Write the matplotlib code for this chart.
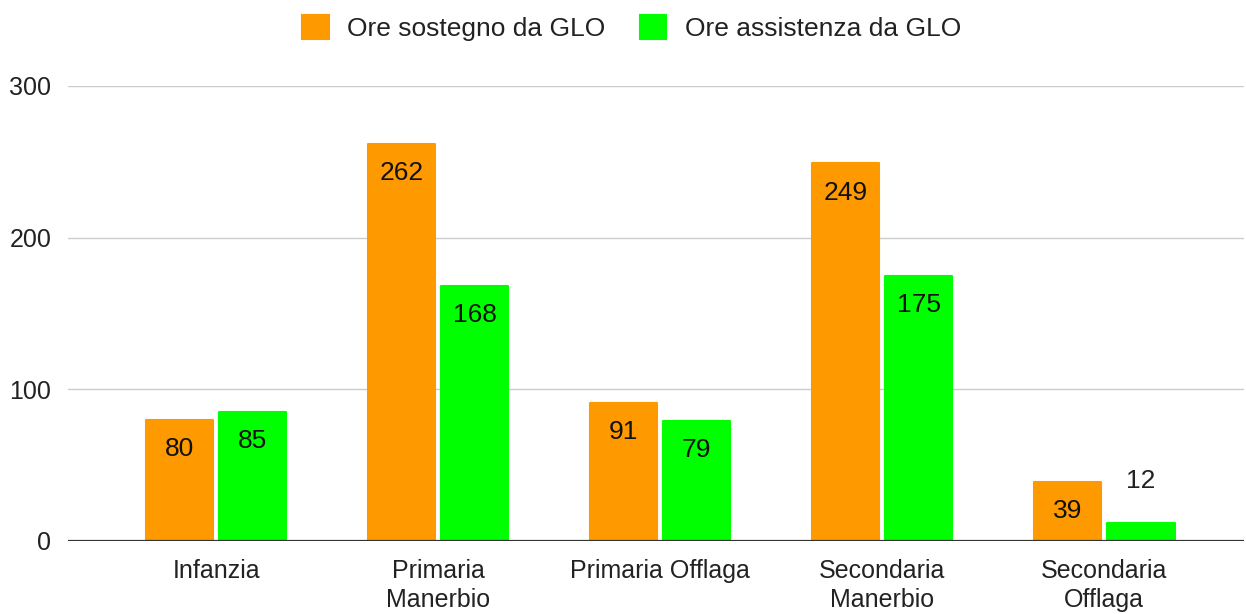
import matplotlib.pyplot as plt
import numpy as np

plt.rcParams['font.family'] = ['Liberation Sans', 'DejaVu Sans']

# dati
categorie = ["Infanzia", "Primaria\nManerbio", "Primaria Offlaga", "Secondaria\nManerbio", "Secondaria\nOfflaga"]
ore_sostegno = [80, 262, 91, 249, 39]
ore_assistenza = [85, 168, 79, 175, 12]
serie_nomi = ["Ore sostegno da GLO", "Ore assistenza da GLO"]
colori = ["#ff9900", "#00ff00"]

fig = plt.figure(figsize=(12.46, 6.14), dpi=100)
ax = fig.add_axes([68/1246, 1 - 541/614, 1176/1246, (541 - 86)/614])

x = np.arange(len(categorie))
w = 0.304
off = 0.165

b1 = ax.bar(x - off, ore_sostegno, w, color=colori[0], label=serie_nomi[0], zorder=2,
            edgecolor=colori[0], linewidth=1.5, joinstyle='round')
b2 = ax.bar(x + off, ore_assistenza, w, color=colori[1], label=serie_nomi[1], zorder=2,
            edgecolor=colori[1], linewidth=1.5, joinstyle='round')

fs = 18
for bars in (b1, b2):
    for r in bars:
        h = r.get_height()
        cx = r.get_x() + r.get_width() / 2
        if h > 30:
            ax.annotate(f"{h:.0f}", (cx, h), xytext=(0, -21), textcoords='offset points',
                        ha='center', va='center', fontsize=19, color='#111111', zorder=3)
        else:
            ax.annotate(f"{h:.0f}", (cx, h), xytext=(0, 30), textcoords='offset points',
                        ha='center', va='center', fontsize=19, color='#222222', zorder=3)

ax.set_xlim(-0.667, 4.63)
ax.set_ylim(0, 300)
ax.set_yticks([0, 100, 200, 300])
ax.yaxis.grid(True, color='#cccccc', linewidth=1, zorder=0)
ax.axhline(0, color='#333333', linewidth=1.6, zorder=4)
for s in ax.spines.values():
    s.set_visible(False)
ax.tick_params(axis='both', length=0, labelsize=fs, colors='#222222')
ax.tick_params(axis='y', pad=12)
ax.tick_params(axis='x', pad=13)
ax.set_xticks(x)
ax.set_xticklabels(categorie, linespacing=1.25)

leg = fig.legend(loc='upper center', bbox_to_anchor=(0.507, 1.014), ncol=2, frameon=False,
                 prop={'family': ['Liberation Sans'], 'size': 19},
                 handlelength=1.0, handleheight=1.0, columnspacing=1.3,
                 handletextpad=0.7, labelcolor='#222222')

fig.savefig("out.png", dpi=100)
